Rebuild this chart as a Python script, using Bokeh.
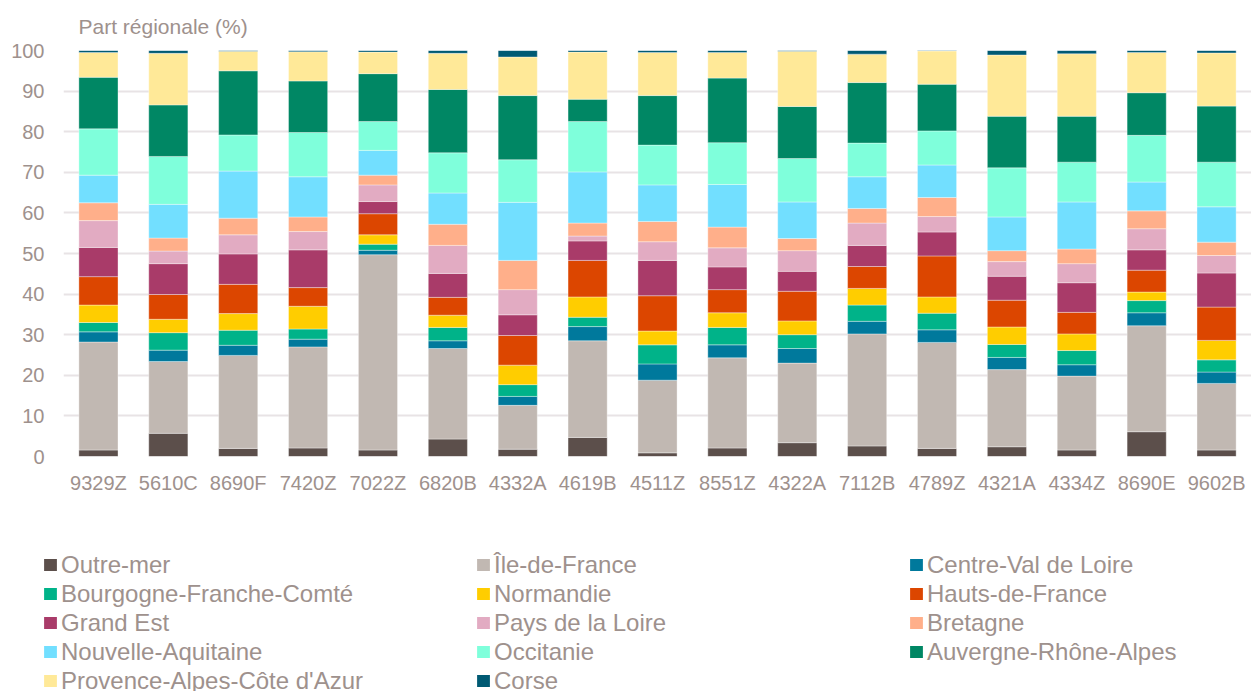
from bokeh.plotting import figure
from bokeh.models import ColumnDataSource, Legend, LegendItem, Title, FixedTicker, Range1d, FactorRange
from bokeh.layouts import column
from bokeh.embed import file_html
from bokeh.resources import INLINE

categories = ["9329Z", "5610C", "8690F", "7420Z", "7022Z", "6820B", "4332A", "4619B", "4511Z",
              "8551Z", "4322A", "7112B", "4789Z", "4321A", "4334Z", "8690E", "9602B"]

outre_mer = [1.6, 5.7, 2.0, 2.1, 1.6, 4.3, 1.8, 4.7, 0.9, 2.1, 3.4, 2.6, 2.0, 2.4, 1.6, 6.1, 1.6]
ile_de_france = [26.6, 17.7, 22.9, 24.9, 48.1, 22.3, 10.8, 23.8, 17.9, 22.2, 19.6, 27.6, 26.1, 19.0, 18.2, 26.1, 16.4]
centre_val_de_loire = [2.5, 2.8, 2.5, 1.9, 1.1, 1.9, 2.2, 3.5, 4.0, 3.2, 3.6, 3.1, 3.1, 3.0, 2.8, 3.2, 2.8]
bourgogne_fc = [2.3, 4.3, 3.7, 2.5, 1.5, 3.3, 2.9, 2.3, 4.7, 4.3, 3.4, 4.0, 4.1, 3.2, 3.5, 3.0, 3.0]
normandie = [4.3, 3.3, 4.1, 5.6, 2.3, 3.0, 4.8, 5.0, 3.4, 3.6, 3.4, 4.1, 4.0, 4.3, 4.1, 2.1, 4.8]
hauts_de_france = [7.0, 6.1, 7.2, 4.6, 5.2, 4.4, 7.3, 9.0, 8.7, 5.7, 7.3, 5.4, 10.1, 6.6, 5.3, 5.4, 8.2]
grand_est = [7.2, 7.6, 7.5, 9.3, 3.0, 5.9, 5.1, 4.8, 8.7, 5.6, 4.9, 5.2, 5.9, 5.9, 7.3, 5.0, 8.4]
pays_de_la_loire = [6.6, 3.1, 4.7, 4.5, 4.1, 6.9, 6.2, 1.2, 4.6, 4.7, 5.1, 5.5, 3.8, 3.6, 4.7, 5.2, 4.3]
bretagne = [4.4, 3.2, 4.1, 3.6, 2.4, 5.2, 7.2, 3.2, 5.0, 5.1, 3.0, 3.6, 4.7, 2.7, 3.6, 4.4, 3.3]
nouvelle_aquitaine = [6.8, 8.3, 11.6, 9.9, 6.1, 7.7, 14.3, 12.6, 9.0, 10.5, 9.0, 7.8, 8.0, 8.3, 11.6, 7.1, 8.7]
occitanie = [11.4, 11.8, 8.9, 10.9, 7.1, 9.9, 10.5, 12.4, 9.8, 10.3, 10.7, 8.3, 8.4, 12.1, 9.8, 11.5, 11.0]
auvergne_ra = [12.7, 12.7, 15.8, 12.7, 11.8, 15.6, 15.8, 5.5, 12.2, 15.9, 12.8, 14.9, 11.5, 12.7, 11.3, 10.5, 13.8]
paca = [6.1, 12.7, 4.8, 7.2, 5.3, 8.9, 9.5, 11.6, 10.6, 6.3, 13.6, 7.0, 8.2, 15.1, 15.4, 9.9, 13.1]
corse = [0.5, 0.7, 0.2, 0.3, 0.4, 0.7, 1.6, 0.4, 0.5, 0.5, 0.2, 0.9, 0.1, 1.1, 0.8, 0.5, 0.6]

region_names = ["Outre-mer", "Île-de-France", "Centre-Val de Loire", "Bourgogne-Franche-Comté",
                "Normandie", "Hauts-de-France", "Grand Est", "Pays de la Loire", "Bretagne",
                "Nouvelle-Aquitaine", "Occitanie", "Auvergne-Rhône-Alpes",
                "Provence-Alpes-Côte d'Azur", "Corse"]
region_values = [outre_mer, ile_de_france, centre_val_de_loire, bourgogne_fc, normandie,
                 hauts_de_france, grand_est, pays_de_la_loire, bretagne, nouvelle_aquitaine,
                 occitanie, auvergne_ra, paca, corse]
region_colors = ["#5C4F4B", "#C1B8B2", "#00799C", "#00B389", "#FFCD00", "#DC4600", "#A93B69",
                 "#E2ABC2", "#FFAF8A", "#72DFFF", "#7FFFDB", "#008764", "#FFE998", "#005A73"]

y_ticks = [0, 10, 20, 30, 40, 50, 60, 70, 80, 90, 100]

TEXT = "#9E918D"
FONT = "Liberation Sans"

data = {"cat": categories}
keys = []
for i, vals in enumerate(region_values):
    k = "s%d" % i
    keys.append(k)
    data[k] = vals
source = ColumnDataSource(data)

p = figure(width=1251, height=500, x_range=FactorRange(factors=categories, range_padding=0),
           y_range=Range1d(0, 100), output_backend="svg", toolbar_location=None,
           min_border_left=63, min_border_right=0, min_border_top=49, min_border_bottom=44)
p.frame_align = False
p.outline_line_color = None
p.background_fill_color = "white"
p.title = Title(text="Part régionale (%)", align="left", offset=15, standoff=25,
                text_font=FONT, text_font_size="21px", text_color=TEXT, text_font_style="normal")

p.xgrid.grid_line_color = None
p.ygrid.grid_line_color = "#E8E3E5"
p.ygrid.grid_line_width = 2
p.yaxis.ticker = FixedTicker(ticks=y_ticks)

for ax in (p.xaxis, p.yaxis):
    ax.axis_line_color = None
    ax.major_tick_line_color = None
    ax.minor_tick_line_color = None
    ax.major_tick_out = 0
    ax.major_tick_in = 0
    ax.minor_tick_out = 0
    ax.major_label_text_color = TEXT
    ax.major_label_text_font = FONT
    ax.major_label_text_font_size = "20px"
p.yaxis.major_label_standoff = 19
p.xaxis.major_label_standoff = 15

p.vbar_stack(keys, x="cat", width=0.56, color=region_colors, source=source,
             line_color="white", line_alpha=0.45, line_width=0.8)

# legend panel below the chart
pl = figure(width=1251, height=191, x_range=Range1d(0, 1), y_range=Range1d(0, 1),
            output_backend="svg", toolbar_location=None, x_axis_type=None, y_axis_type=None,
            min_border_left=0, min_border_right=0, min_border_top=0, min_border_bottom=0)
pl.frame_align = False
pl.outline_line_color = None
pl.xgrid.grid_line_color = None
pl.ygrid.grid_line_color = None
items = []
for name, col in zip(region_names, region_colors):
    r = pl.vbar(x=[-5], top=[0], width=0.1, fill_color=col, line_color=None)
    items.append(LegendItem(label=name, renderers=[r]))
legend = Legend(items=items, orientation="horizontal", ncols=3, location=(42, -4),
                glyph_width=16, glyph_height=15, label_standoff=3, label_width=414,
                label_height=29, spacing=0, padding=0, margin=0,
                label_text_font=FONT, label_text_font_size="24px", label_text_color=TEXT,
                border_line_alpha=0, background_fill_alpha=0)
pl.add_layout(legend, "center")

layout = column(p, pl, spacing=0)
open("out.html", "w").write(file_html(layout, INLINE))
